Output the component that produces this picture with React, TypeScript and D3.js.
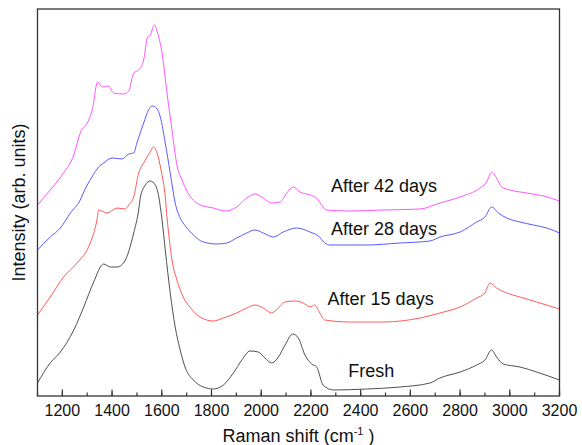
import React from 'react';
import * as d3 from 'd3';

// Raman spectra, [shift (cm-1), intensity (arb.)]
const fresh: [number, number][] = [
  [1100, 13], [1151, 33], [1192, 44], [1246, 66], [1286, 89], [1326, 114], [1366, 132],
  [1393, 129], [1420, 129], [1449, 134], [1487, 163], [1507, 186], [1514, 199], [1534, 211],
  [1554, 215], [1574, 211], [1588, 199], [1601, 176], [1614, 146], [1634, 103], [1654, 69],
  [1674, 46], [1695, 28], [1727, 16], [1767, 9], [1807, 7], [1848, 11], [1888, 23], [1922, 36],
  [1955, 45], [1988, 44], [2015, 38], [2042, 33], [2069, 39], [2096, 51], [2127, 62], [2149, 58],
  [2176, 41], [2203, 32], [2223, 29], [2249, 11], [2290, 6], [2424, 7], [2558, 9], [2679, 13],
  [2719, 18], [2800, 24], [2867, 31], [2900, 36], [2927, 46], [2947, 39], [2974, 32], [3041, 29],
  [3108, 24], [3200, 16],
];

const days15: [number, number][] = [
  [1100, 81], [1151, 99], [1205, 119], [1259, 133], [1312, 153], [1339, 176], [1346, 186],
  [1380, 183], [1420, 188], [1453, 187], [1467, 191], [1487, 199], [1507, 223], [1527, 233],
  [1551, 243], [1567, 249], [1581, 243], [1597, 226], [1614, 199], [1621, 179], [1641, 136],
  [1661, 116], [1688, 98], [1713, 89], [1754, 79], [1807, 75], [1848, 78], [1901, 83], [1942, 88],
  [1975, 91], [2008, 88], [2042, 83], [2069, 88], [2096, 94], [2136, 95], [2169, 93], [2196, 89],
  [2215, 91], [2236, 83], [2256, 76], [2357, 74], [2490, 74], [2639, 78], [2719, 83], [2800, 89],
  [2867, 98], [2900, 103], [2920, 113], [2947, 108], [2988, 103], [3041, 99], [3108, 94], [3200, 87],
];

const days28: [number, number][] = [
  [1100, 146], [1151, 159], [1192, 168], [1232, 183], [1272, 196], [1286, 204], [1319, 219],
  [1346, 229], [1366, 233], [1400, 238], [1440, 237], [1467, 242], [1487, 243], [1500, 253],
  [1527, 273], [1547, 286], [1561, 290], [1578, 288], [1594, 279], [1614, 253], [1634, 223],
  [1654, 193], [1674, 178], [1695, 170], [1727, 161], [1767, 154], [1821, 152], [1861, 153],
  [1901, 158], [1942, 163], [1975, 166], [2008, 163], [2049, 159], [2089, 164], [2143, 168],
  [2196, 164], [2230, 160], [2256, 153], [2277, 151], [2424, 151], [2558, 153], [2679, 155],
  [2719, 159], [2800, 164], [2867, 174], [2900, 179], [2927, 189], [2954, 183], [2988, 178],
  [3041, 174], [3095, 171], [3149, 168], [3200, 163],
];

const days42: [number, number][] = [
  [1100, 191], [1151, 206], [1205, 223], [1246, 241], [1272, 263], [1306, 276], [1320, 286],
  [1342, 314], [1360, 309], [1386, 310], [1406, 303], [1447, 302], [1467, 305], [1487, 323],
  [1507, 326], [1527, 336], [1543, 359], [1554, 361], [1570, 371], [1583, 363], [1601, 343],
  [1621, 303], [1641, 266], [1661, 231], [1681, 216], [1699, 206], [1754, 191], [1807, 188],
  [1854, 185], [1901, 189], [1942, 198], [1975, 202], [2008, 198], [2042, 193], [2076, 194],
  [2103, 203], [2129, 209], [2156, 204], [2196, 201], [2222, 198], [2249, 189], [2263, 186],
  [2357, 185], [2490, 186], [2639, 187], [2719, 193], [2800, 199], [2880, 208], [2907, 214],
  [2927, 224], [2947, 218], [2967, 209], [3001, 206], [3068, 203], [3135, 200], [3200, 195],
];

const seriesNames = ['Fresh', 'After 15 days', 'After 28 days', 'After 42 days'];
const seriesColors = ['#505050', '#ff5a5a', '#5a5aff', '#ff55ff'];
// label anchors: [shift, intensity]
const labelPos: [number, number][] = [[2350, 19], [2267, 91], [2281, 161], [2281, 204]];

const xTicks = d3.range(1200, 3201, 200);
const xMinor = d3.range(1100, 3201, 100);

export default function App() {
  const W = 582, H = 445;
  const m = { left: 37.5, right: 559.5, top: 9, bottom: 396 };

  const x = d3.scaleLinear().domain([1100, 3200]).range([m.left, m.right]);
  const y = d3.scaleLinear().domain([0, 387]).range([m.bottom, m.top]);

  const line = d3.line<[number, number]>()
    .x(d => x(d[0]))
    .y(d => y(d[1]))
    .curve(d3.curveMonotoneX);

  const all = [fresh, days15, days28, days42];
  const font = 'Liberation Sans, Arial, sans-serif';

  return (
    <svg width={W} height={H} style={{ position: 'absolute', left: 0, top: 0, background: '#fff' }}>
      {all.map((s, i) => (
        <path key={i} d={line(s) || ''} fill="none" stroke={seriesColors[i]} strokeWidth={1} />
      ))}
      {seriesNames.map((n, i) => (
        <text key={n} x={x(labelPos[i][0])} y={y(labelPos[i][1])} fontFamily={font} fontSize={18} fill="#111">
          {n}
        </text>
      ))}
      <rect x={m.left} y={m.top} width={m.right - m.left} height={m.bottom - m.top}
        fill="none" stroke="#333" strokeWidth={1.3} />
      {xMinor.map(t => (
        <line key={'m' + t} x1={x(t)} x2={x(t)} y1={m.bottom} y2={m.bottom - 3.5} stroke="#333" strokeWidth={1.2} />
      ))}
      {xTicks.map(t => (
        <g key={t}>
          <line x1={x(t)} x2={x(t)} y1={m.bottom} y2={m.bottom - 6.5} stroke="#333" strokeWidth={1.2} />
          <text x={x(t)} y={416} textAnchor="middle" fontFamily={font} fontSize={16} fill="#111">{t}</text>
        </g>
      ))}
      <text x={(m.left + m.right) / 2} y={442} textAnchor="middle" fontFamily={font} fontSize={18} fill="#111">
        Raman shift (cm<tspan dy={-7} fontSize={11}>-1</tspan><tspan dy={7}> )</tspan>
      </text>
      <text transform={`translate(25,${(m.top + m.bottom) / 2}) rotate(-90)`} textAnchor="middle"
        fontFamily={font} fontSize={18} fill="#111">
        Intensity (arb. units)
      </text>
    </svg>
  );
}
